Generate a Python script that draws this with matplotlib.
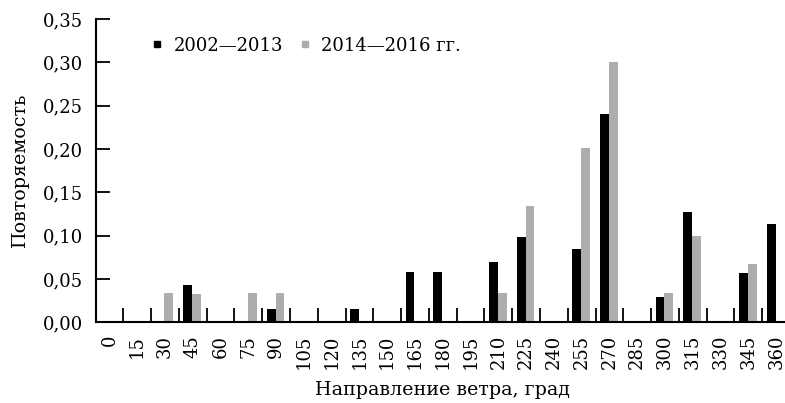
import matplotlib.pyplot as plt
import numpy as np
from matplotlib.lines import Line2D
from matplotlib.ticker import FuncFormatter

plt.rcParams["font.family"] = ["DejaVu Serif"]
plt.rcParams["font.size"] = 13

directions = [str(d) for d in range(0, 361, 15)]
freq_2002_2013 = [0, 0, 0, 0.043, 0, 0, 0.015, 0, 0, 0.015, 0, 0.058, 0.058,
                  0, 0.070, 0.099, 0, 0.085, 0.240, 0, 0.029, 0.128, 0, 0.057, 0.114]
freq_2014_2016 = [0, 0, 0.034, 0.033, 0, 0.034, 0.034, 0, 0, 0, 0, 0, 0,
                  0, 0.034, 0.134, 0, 0.201, 0.301, 0, 0.034, 0.100, 0, 0.067, 0]

black = "#000000"
gray = "#adadad"

fig = plt.figure(figsize=(7.85, 4.03), dpi=100)
ax = fig.add_axes([0.1217, 0.1998, 0.8847, 0.753])

x = np.arange(len(directions))
w = 0.32
ax.bar(x - 0.02 - w / 2, freq_2002_2013, width=w, color=black)
ax.bar(x - 0.02 + w / 2, freq_2014_2016, width=w, color=gray)

ax.set_xlim(-0.5, len(directions) - 0.5)
ax.set_ylim(0, 0.35)
ax.set_yticks(np.arange(0, 0.351, 0.05))
ax.yaxis.set_major_formatter(FuncFormatter(lambda v, p: f"{v:.2f}".replace(".", ",")))

ax.set_xticks(x)
ax.set_xticklabels(directions, rotation=90, va="top", ha="center")
ax.set_xticks(x[:-1] + 0.5, minor=True)
ax.tick_params(axis="x", which="major", length=0, pad=9)
ax.tick_params(axis="x", which="minor", direction="in", length=10, width=1.3)
ax.tick_params(axis="y", direction="in", length=10, width=1.3, pad=9)

for s in ("top", "right"):
    ax.spines[s].set_visible(False)
for s in ("left", "bottom"):
    ax.spines[s].set_linewidth(1.5)

ax.set_xlabel("Направление ветра, град", fontsize=13.7, labelpad=8)
ax.set_ylabel("Повторяемость", fontsize=13.7, labelpad=10)

handles = [
    Line2D([], [], marker="s", linestyle="none", color=black, markersize=5),
    Line2D([], [], marker="s", linestyle="none", color=gray, markersize=5),
]
ax.legend(handles, ["2002—2013", "2014—2016 гг."], ncol=2, frameon=False,
          loc="upper left", bbox_to_anchor=(0.058, 0.995), handlelength=0.6,
          handletextpad=0.6, columnspacing=0.9)

fig.savefig("out.png", dpi=100)
